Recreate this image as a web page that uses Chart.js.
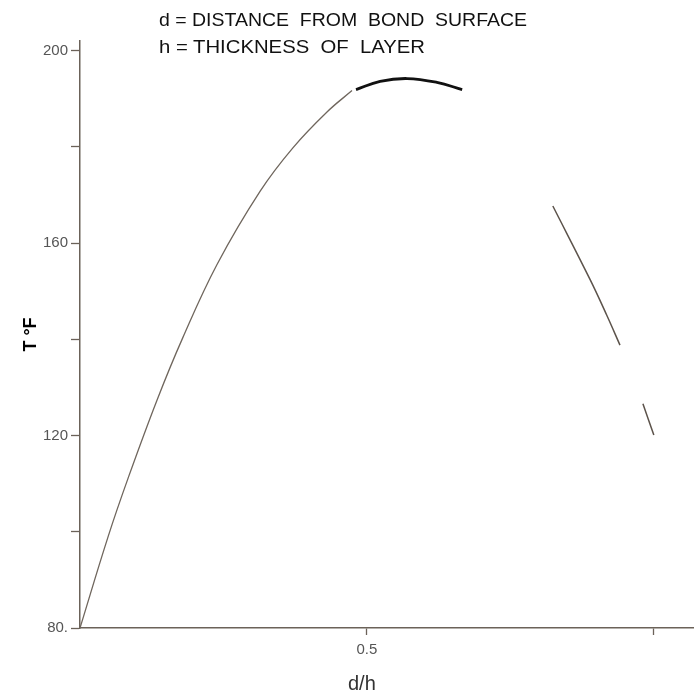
<!DOCTYPE html>
<html>
<head>
<meta charset="utf-8">
<script src="https://cdn.jsdelivr.net/npm/chart.js@4.4.0/dist/chart.umd.min.js"></script>
<style>
    body { margin: 0; background: #fff; }
    #wrap { position: relative; width: 694px; height: 694px; }
    .note {
        position: absolute;
        font-family: "Liberation Sans Narrow", "Liberation Sans", Arial, sans-serif;
        font-size: 18px;
        color: #111;
        white-space: pre;
        line-height: 1;
        transform-origin: 0 50%;
    }
    #xTitle {
        position: absolute;
        font-family: "Liberation Sans", Arial, sans-serif;
        font-size: 20px;
        color: #333;
        line-height: 1;
    }
</style>
</head>
<body>
<div id="wrap">
    <canvas id="tempChart" width="694" height="694"></canvas>
    <div class="note" id="line1" data-w="368" style="left:159px; top:11px;">d = DISTANCE  FROM  BOND  SURFACE</div>
    <div class="note" id="line2" data-w="266" style="left:159px; top:38px;">h = THICKNESS  OF  LAYER</div>
    <div id="xTitle" style="left:348px; top:673px;">d/h</div>
</div>
<script>
// values (d/h vs temperature)
const riseX = [0, 0.049, 0.084, 0.134, 0.179, 0.239, 0.314, 0.371, 0.430, 0.474];
const riseT = [80, 99.0, 111.2, 127.3, 140.3, 155.6, 170.8, 179.8, 187.2, 191.7];

const peakX = [0.481, 0.523, 0.570, 0.622, 0.666];
const peakT = [191.9, 193.6, 194.2, 193.4, 191.9];

const fallX = [0.824, 0.889, 0.918, 0.941];
const fallT = [167.7, 152.4, 145.0, 138.8];

const endX = [0.981, 1.0];
const endT = [126.6, 120.1];

const yTicks = [80, 100, 120, 140, 160, 180, 200];
const yLabels = { 80: '80.', 120: '120', 160: '160', 200: '200' };
const xTicks = [0.5, 1.0];
const xLabels = { 0.5: '0.5' };

const axisColor = '#6b6259';

function toPoints(xs, ys) {
    return xs.map((x, i) => ({ x: x, y: ys[i] }));
}

function lineSet(xs, ys, color, width) {
    return {
        data: toPoints(xs, ys),
        borderColor: color,
        borderWidth: width,
        pointRadius: 0,
        fill: false,
        tension: 0.4
    };
}

const ctx = document.getElementById('tempChart').getContext('2d');
const tempChart = new Chart(ctx, {
    type: 'line',
    data: {
        datasets: [
            lineSet(riseX, riseT, '#6f665d', 1.3),
            lineSet(peakX, peakT, '#111111', 2.8),
            lineSet(fallX, fallT, '#5c534b', 1.5),
            lineSet(endX, endT, '#5c534b', 1.5)
        ]
    },
    options: {
        responsive: false,
        animation: false,
        devicePixelRatio: 1,
        layout: { padding: { top: 41, right: 0, left: 0, bottom: 0 } },
        plugins: {
            legend: { display: false },
            tooltip: { enabled: false }
        },
        scales: {
            x: {
                type: 'linear',
                min: 0,
                max: 1.07,
                afterBuildTicks: (scale) => { scale.ticks = xTicks.map(v => ({ value: v })); },
                afterFit: (scale) => { scale.height = 66; },
                ticks: {
                    autoSkip: false,
                    maxRotation: 0,
                    padding: 6,
                    color: '#555',
                    font: { family: 'Liberation Sans, Arial, sans-serif', size: 15 },
                    callback: (v) => xLabels[v] || ''
                },
                grid: {
                    drawOnChartArea: false,
                    drawTicks: true,
                    tickLength: 7,
                    tickColor: axisColor,
                    tickWidth: 1.3
                },
                border: { color: axisColor, width: 1.5 }
            },
            y: {
                type: 'linear',
                min: 80,
                max: 202,
                afterBuildTicks: (scale) => { scale.ticks = yTicks.map(v => ({ value: v })); },
                afterFit: (scale) => { scale.width = 80; },
                ticks: {
                    autoSkip: false,
                    padding: 3,
                    color: '#555',
                    font: { family: 'Liberation Sans, Arial, sans-serif', size: 15 },
                    callback: (v) => yLabels[v] || ''
                },
                grid: {
                    drawOnChartArea: false,
                    drawTicks: true,
                    tickLength: 9,
                    tickColor: axisColor,
                    tickWidth: 1.3
                },
                border: { color: axisColor, width: 1.5 },
                title: {
                    display: true,
                    text: 'T °F',
                    color: '#000',
                    padding: { top: 20, bottom: 0 },
                    font: { family: 'Liberation Sans, Arial, sans-serif', size: 18, weight: 'bold' }
                }
            }
        }
    }
});

// squeeze the note lines to the narrow lettering of the original
document.querySelectorAll('.note').forEach(el => {
    const target = parseFloat(el.dataset.w);
    const w = el.getBoundingClientRect().width;
    el.style.transform = 'scaleX(' + (target / w) + ')';
});
</script>
</body>
</html>
